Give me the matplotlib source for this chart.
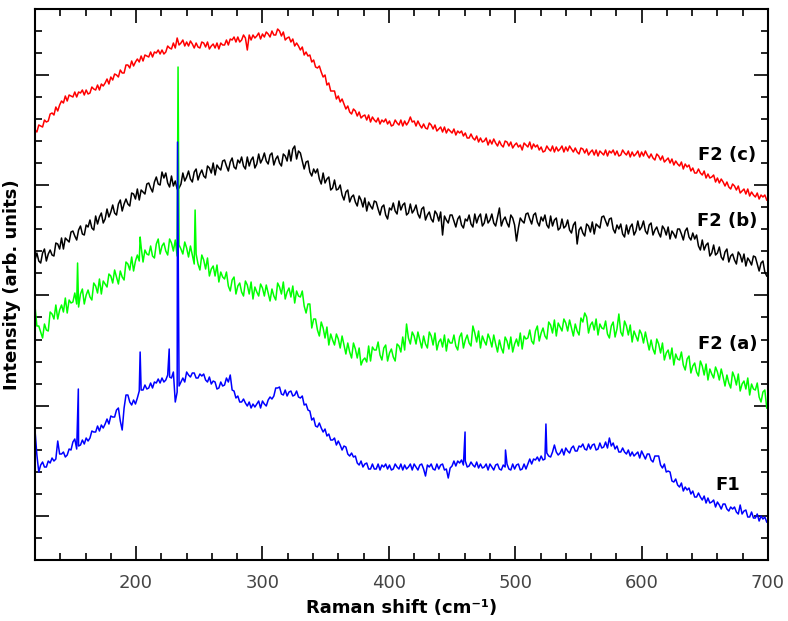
"""Ramanova spektra vzorku F1 a F2 (a)-(c)."""

import numpy as np
import matplotlib.pyplot as plt
from matplotlib.ticker import MultipleLocator

# osa x: Ramanuv posun 120 .. 699 cm-1 po 1.5 cm-1
raman_shift = np.arange(120, 699.1, 1.5)

# F2 (c) - cervena
f2c = [
    430, 428, 435, 434, 433, 440, 438, 439, 446, 447, 445, 453, 449, 455, 459, 457, 464, 459, 465, 464,
    463, 468, 463, 468, 467, 470, 465, 470, 466, 467, 473, 471, 470, 475, 470, 476, 474, 477, 481, 476,
    483, 480, 486, 485, 483, 490, 487, 487, 495, 495, 492, 499, 494, 498, 501, 498, 504, 499, 505, 504,
    503, 508, 503, 508, 507, 510, 506, 510, 506, 508, 514, 512, 511, 517, 512, 522, 515, 517, 520, 514,
    518, 514, 519, 516, 512, 517, 513, 512, 518, 517, 513, 518, 511, 514, 516, 512, 517, 511, 517, 515,
    515, 520, 515, 521, 520, 523, 518, 523, 518, 520, 525, 522, 510, 525, 520, 525, 522, 524, 527, 521,
    526, 523, 528, 526, 523, 529, 525, 525, 531, 529, 524, 528, 520, 522, 523, 518, 521, 514, 517, 514,
    510, 513, 505, 508, 504, 505, 498, 500, 493, 492, 494, 488, 483, 485, 475, 477, 469, 469, 469, 461,
    464, 458, 461, 456, 451, 454, 448, 446, 451, 449, 444, 448, 442, 444, 445, 440, 445, 438, 443, 440,
    438, 442, 436, 440, 438, 441, 436, 439, 434, 435, 440, 437, 435, 440, 434, 439, 435, 438, 443, 438,
    439, 434, 439, 435, 432, 436, 432, 431, 437, 435, 431, 435, 429, 431, 433, 428, 433, 427, 431, 429,
    427, 431, 425, 429, 427, 429, 424, 427, 422, 422, 426, 422, 420, 424, 418, 422, 418, 419, 422, 415,
    420, 416, 421, 417, 414, 419, 415, 413, 419, 418, 414, 418, 412, 415, 417, 413, 415, 410, 417, 415,
    413, 418, 411, 416, 413, 415, 410, 413, 408, 409, 414, 411, 409, 414, 408, 413, 409, 411, 414, 408,
    413, 409, 414, 411, 408, 412, 408, 406, 412, 411, 407, 411, 405, 408, 410, 405, 410, 404, 409, 407,
    405, 410, 404, 409, 407, 410, 405, 409, 404, 405, 410, 407, 405, 409, 403, 408, 404, 406, 409, 403,
    408, 404, 409, 405, 402, 406, 402, 400, 406, 404, 400, 404, 398, 400, 402, 397, 401, 395, 399, 396,
    394, 398, 391, 396, 393, 395, 389, 392, 387, 387, 391, 387, 385, 389, 382, 386, 382, 383, 385, 378,
    382, 377, 381, 378, 374, 378, 373, 371, 376, 374, 370, 374, 367, 369, 371, 366, 371, 364, 368, 365,
    363, 367, 361, 365, 363, 365, 360,
]

# F2 (b) - cerna
f2b = [
    300, 307, 299, 297, 307, 311, 299, 306, 310, 305, 304, 317, 316, 311, 322, 311, 322, 320, 318, 328,
    329, 324, 320, 330, 334, 326, 325, 335, 333, 340, 332, 330, 344, 336, 343, 347, 337, 341, 351, 343,
    348, 355, 347, 345, 356, 360, 349, 356, 361, 356, 354, 367, 366, 361, 371, 360, 370, 368, 366, 376,
    377, 372, 368, 378, 383, 376, 375, 388, 382, 387, 377, 373, 384, 374, 379, 371, 372, 376, 387, 379,
    383, 389, 381, 378, 388, 391, 380, 386, 390, 384, 382, 394, 392, 387, 397, 385, 395, 392, 390, 399,
    400, 394, 389, 398, 402, 393, 391, 400, 397, 403, 394, 391, 403, 394, 400, 403, 392, 396, 406, 397,
    401, 407, 399, 396, 405, 407, 395, 401, 404, 397, 394, 406, 404, 399, 410, 399, 411, 414, 401, 409,
    407, 399, 391, 398, 399, 388, 384, 391, 387, 391, 381, 376, 387, 377, 381, 383, 370, 372, 380, 370,
    371, 375, 365, 360, 368, 370, 358, 363, 365, 358, 354, 364, 360, 353, 362, 349, 358, 354, 351, 359,
    358, 351, 345, 353, 355, 345, 341, 352, 350, 357, 349, 346, 359, 350, 355, 357, 345, 347, 356, 347,
    350, 355, 346, 342, 351, 353, 340, 345, 348, 341, 338, 349, 346, 339, 348, 325, 344, 340, 337, 345,
    345, 339, 333, 341, 344, 335, 332, 341, 339, 345, 336, 333, 346, 337, 343, 346, 334, 337, 346, 337,
    340, 346, 337, 334, 343, 352, 334, 340, 343, 337, 333, 345, 342, 335, 319, 332, 342, 339, 337, 346,
    347, 341, 336, 345, 347, 338, 334, 343, 339, 345, 335, 332, 344, 334, 340, 342, 330, 332, 341, 332,
    334, 340, 330, 327, 335, 338, 316, 330, 333, 327, 324, 336, 334, 328, 338, 326, 336, 334, 332, 343,
    344, 339, 334, 341, 342, 331, 327, 335, 331, 336, 326, 323, 335, 326, 333, 336, 325, 329, 339, 330,
    333, 339, 329, 326, 335, 337, 325, 330, 333, 327, 323, 334, 331, 325, 333, 321, 329, 326, 322, 331,
    331, 326, 320, 329, 332, 323, 320, 327, 321, 325, 314, 310, 320, 310, 315, 317, 304, 307, 315, 305,
    307, 313, 303, 300, 308, 311, 298, 304, 306, 300, 296, 308, 305, 298, 306, 294, 302, 299, 295, 304,
    303, 296, 289, 297, 299, 288, 284,
]

# F2 (a) - zelena
f2a = [
    254, 234, 234, 228, 222, 236, 230, 229, 248, 246, 241, 255, 241, 250, 255, 248, 262, 247, 260, 257,
    258, 267, 256, 253, 266, 271, 256, 265, 270, 263, 260, 277, 274, 267, 281, 266, 279, 276, 273, 286,
    284, 277, 290, 283, 276, 289, 283, 280, 298, 296, 290, 303, 289, 299, 305, 299, 313, 298, 310, 306,
    305, 314, 304, 302, 316, 321, 306, 314, 317, 309, 305, 321, 317, 309, 320, 304, 315, 311, 306, 318,
    312, 303, 314, 305, 296, 306, 296, 290, 305, 300, 291, 302, 284, 291, 294, 284, 295, 278, 288, 283,
    281, 288, 274, 269, 280, 283, 266, 274, 277, 268, 264, 279, 275, 266, 278, 261, 273, 268, 264, 276,
    272, 264, 275, 267, 259, 271, 264, 260, 277, 273, 266, 278, 261, 268, 272, 263, 274, 257, 269, 264,
    263, 269, 254, 247, 256, 256, 232, 241, 241, 230, 224, 238, 232, 222, 233, 215, 226, 220, 215, 226,
    221, 212, 224, 215, 206, 217, 208, 202, 217, 211, 202, 212, 195, 200, 202, 198, 214, 199, 213, 210,
    210, 218, 205, 200, 212, 215, 199, 207, 211, 203, 199, 216, 214, 208, 223, 210, 236, 222, 216, 228,
    224, 216, 228, 220, 212, 224, 216, 212, 228, 224, 215, 227, 210, 218, 221, 213, 225, 209, 221, 217,
    217, 225, 214, 210, 223, 227, 212, 220, 225, 217, 214, 234, 227, 218, 229, 212, 224, 219, 215, 226,
    221, 213, 225, 216, 208, 220, 212, 207, 223, 219, 211, 223, 208, 216, 221, 214, 227, 211, 224, 221,
    222, 230, 219, 216, 229, 234, 219, 227, 232, 224, 221, 238, 235, 227, 240, 224, 237, 233, 229, 241,
    237, 229, 240, 232, 224, 236, 229, 225, 242, 238, 247, 243, 227, 235, 238, 230, 241, 225, 236, 232,
    231, 239, 226, 222, 234, 238, 223, 231, 246, 228, 224, 239, 234, 225, 235, 218, 229, 224, 219, 230,
    226, 217, 228, 219, 210, 220, 211, 206, 221, 216, 207, 217, 200, 207, 210, 201, 212, 195, 206, 201,
    200, 208, 195, 190, 201, 204, 187, 194, 197, 188, 184, 199, 194, 185, 196, 180, 191, 186, 182, 193,
    188, 180, 191, 183, 174, 185, 177, 172, 188, 183, 175, 186, 169, 176, 179, 171, 182, 165, 176, 171,
    170, 177, 163, 158, 168, 170, 152,
]

# F1 - modra
f1 = [
    130, 105, 88, 95, 98, 93, 93, 99, 97, 102, 99, 101, 119, 106, 106, 108, 103, 105, 111, 110,
    118, 121, 111, 114, 115, 120, 116, 122, 119, 122, 129, 128, 128, 134, 129, 135, 132, 136, 141, 136,
    144, 143, 143, 150, 152, 139, 130, 152, 165, 165, 158, 155, 160, 156, 162, 169, 170, 170, 175, 171,
    172, 177, 172, 178, 177, 181, 177, 182, 178, 180, 185, 183, 182, 188, 158, 168, 174, 178, 182, 178,
    188, 185, 183, 187, 187, 182, 182, 186, 184, 186, 180, 178, 183, 176, 179, 178, 171, 172, 178, 174,
    175, 182, 178, 185, 170, 169, 162, 164, 158, 158, 161, 157, 154, 158, 152, 156, 153, 156, 159, 152,
    159, 156, 154, 160, 163, 161, 164, 172, 172, 173, 166, 165, 170, 164, 168, 169, 164, 165, 169, 163,
    162, 164, 155, 156, 150, 149, 140, 142, 134, 133, 137, 132, 128, 131, 124, 126, 120, 120, 122, 115,
    119, 115, 110, 114, 113, 106, 104, 107, 103, 104, 97, 95, 99, 93, 96, 97, 91, 91, 96, 91,
    91, 96, 90, 95, 93, 96, 91, 95, 90, 91, 96, 93, 91, 96, 90, 95, 91, 93, 96, 90,
    96, 93, 90, 95, 96, 91, 84, 95, 93, 96, 91, 90, 96, 91, 95, 96, 90, 91, 82, 92,
    94, 99, 94, 99, 97, 100, 95, 99, 93, 94, 98, 95, 93, 98, 92, 96, 92, 93, 96, 90,
    96, 93, 90, 95, 96, 91, 90, 95, 93, 96, 91, 90, 96, 91, 95, 96, 90, 91, 96, 91,
    96, 101, 96, 101, 100, 103, 99, 104, 100, 101, 107, 104, 103, 108, 115, 108, 105, 107, 111, 105,
    112, 109, 107, 112, 114, 109, 109, 114, 113, 116, 111, 110, 116, 111, 115, 116, 110, 111, 117, 112,
    113, 118, 112, 122, 114, 117, 111, 114, 108, 108, 112, 108, 106, 110, 104, 108, 104, 106, 108, 102,
    109, 105, 101, 106, 106, 100, 98, 104, 104, 104, 95, 92, 96, 88, 89, 88, 79, 78, 81, 75,
    73, 77, 69, 73, 70, 72, 66, 69, 63, 63, 67, 63, 60, 64, 57, 62, 57, 58, 60, 53,
    58, 55, 51, 56, 56, 51, 49, 53, 51, 53, 48, 46, 55, 46, 49, 50, 43, 43, 48, 42,
    42, 46, 39, 44, 41, 43, 38,
]

# uzke piky (poloha v cm-1, intenzita)
f2a_peaks_x = [153.7, 203.2, 233.2, 246.7]
f2a_peaks_y = [297, 323, 493, 350]
f1_peaks_x = [154.3, 203.2, 226.2, 232.8, 460.3, 492.3, 524.3]
f1_peaks_y = [171, 208, 211, 418, 128, 110, 136]

series = [
    ("F2 (c)", f2c, [], [], "#ff0000", 405),
    ("F2 (b)", f2b, [], [], "black", 339),
    ("F2 (a)", f2a, f2a_peaks_x, f2a_peaks_y, "#00ff00", 216),
    ("F1", f1, f1_peaks_x, f1_peaks_y, "#0000ff", 75),
]

fig = plt.figure(figsize=(7.88, 6.21), dpi=100)
ax = fig.add_axes([0.0444, 0.0982, 0.9302, 0.8873])

for name, values, px, py, color, label_y in series:
    x = np.concatenate([raman_shift, px])
    y = np.concatenate([values, py])
    order = np.argsort(x, kind="stable")
    ax.plot(x[order], y[order], color=color, lw=1.1)
    ax.text(668, label_y, name, fontsize=13, fontweight="bold",
            ha="center", va="center")

ax.set_xlim(120, 700)
ax.set_ylim(0, 551)

ax.xaxis.set_major_locator(MultipleLocator(100))
ax.xaxis.set_minor_locator(MultipleLocator(20))
ax.set_yticks(np.arange(44.1, 551, 110.25))
ax.set_yticks(np.arange(0, 551, 22.05), minor=True)
ax.set_yticklabels([])

ax.tick_params(which="both", direction="in", top=True, right=True,
               width=1.2, colors="black", labelcolor="#444444",
               labelsize=13, pad=10)
ax.tick_params(which="major", length=10)
ax.tick_params(which="minor", length=5)
for spine in ax.spines.values():
    spine.set_linewidth(1.5)

ax.set_xlabel("Raman shift (cm⁻¹)", fontsize=13, fontweight="bold",
              labelpad=5)
ax.set_ylabel("Intensity (arb. units)", fontsize=13, fontweight="bold",
              labelpad=0)

plt.savefig("out.png")
